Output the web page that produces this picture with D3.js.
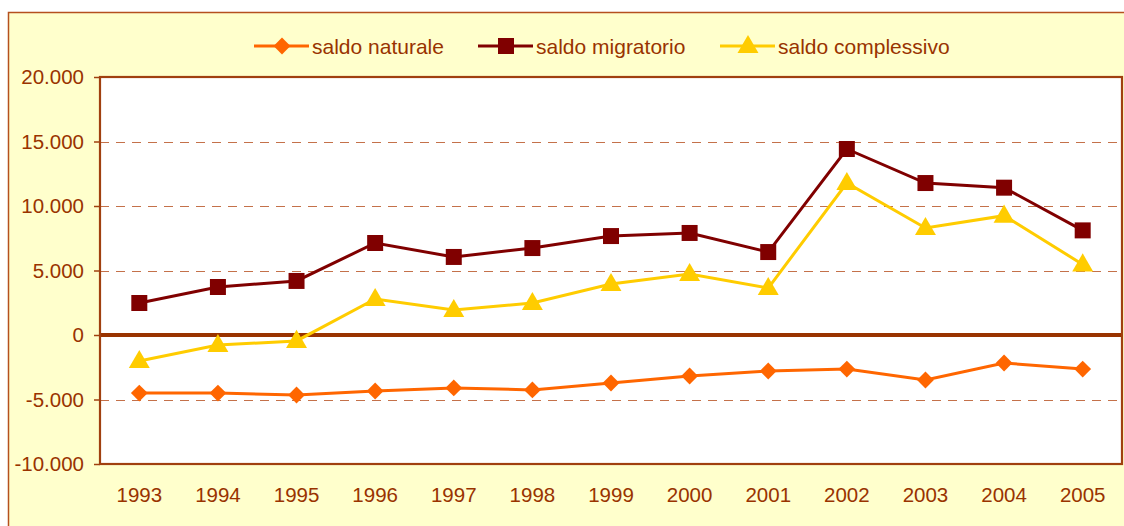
<!DOCTYPE html>
<html>
<head>
<meta charset="utf-8">
<script src="https://cdn.jsdelivr.net/npm/d3@7/dist/d3.min.js"></script>
<style>
  html, body { margin: 0; padding: 0; background: #ffffff; }
  svg { display: block; }
  text { font-family: "Liberation Sans", Arial, sans-serif; fill: #993300; }
</style>
</head>
<body>
<svg id="chart" width="1124" height="526"></svg>
<script>
const years = ["1993","1994","1995","1996","1997","1998","1999","2000","2001","2002","2003","2004","2005"];
const saldoNaturale   = [-4500,-4500,-4650,-4340,-4100,-4260,-3720,-3180,-2790,-2640,-3490,-2170,-2640];
const saldoMigratorio = [2480,3720,4190,7130,6050,6740,7670,7910,6430,14420,11780,11420,8110];
const saldoComplessivo= [-2020,-780,-460,2790,1940,2480,3950,4730,3640,11780,8290,9250,5470];
const yTicks = [-10000,-5000,0,5000,10000,15000,20000];
const seriesNames = ["saldo naturale","saldo migratorio","saldo complessivo"];

const colors = ["#FF6600","#800000","#FFCC00"];
const symbols = [d3.symbolDiamond2, d3.symbolSquare, d3.symbolTriangle];
const symSizes = [180, 256, 190];

const svg = d3.select("#chart");
const W = 1124, H = 526;
const plot = {left:100, right:1122, top:77, bottom:464};

// outer chart area
svg.append("rect").attr("x",8.5).attr("y",12.5).attr("width",W+20).attr("height",H+20)
  .attr("fill","#FFFFCC").attr("stroke","#B5501E").attr("stroke-width",1.5);

const x = d3.scaleBand().domain(years).range([plot.left, plot.right]);
const y = d3.scaleLinear().domain([-10000,20000]).range([plot.bottom, plot.top]);

// plot background
svg.append("rect").attr("x",plot.left).attr("y",plot.top)
  .attr("width",plot.right-plot.left).attr("height",plot.bottom-plot.top)
  .attr("fill","#ffffff");

// gridlines
svg.append("g").selectAll("line").data(yTicks.filter(t => t !== 0 && t !== -10000 && t !== 20000))
  .join("line")
  .attr("x1",plot.left).attr("x2",plot.right)
  .attr("y1",d=>Math.round(y(d))+0.5).attr("y2",d=>Math.round(y(d))+0.5)
  .attr("stroke","#C4714A").attr("stroke-width",1).attr("stroke-dasharray","9,7")
  .attr("shape-rendering","crispEdges");

// zero line
svg.append("line").attr("x1",plot.left).attr("x2",plot.right)
  .attr("y1",y(0)).attr("y2",y(0)).attr("stroke","#993300").attr("stroke-width",4);

// plot border
svg.append("rect").attr("x",plot.left).attr("y",plot.top)
  .attr("width",plot.right-plot.left).attr("height",plot.bottom-plot.top)
  .attr("fill","none").attr("stroke","#A0400F").attr("stroke-width",2.2);

// y axis
const fmt = d => d3.format(",")(Math.abs(d)).replace(/,/g,".");
const yAxis = d3.axisLeft(y).tickValues(yTicks).tickSize(6).tickPadding(10)
  .tickFormat(d => (d < 0 ? "-" : "") + fmt(d));
const gy = svg.append("g").attr("transform",`translate(${plot.left},0)`).call(yAxis);
gy.select(".domain").remove();
gy.selectAll(".tick line").attr("stroke","#A0400F").attr("stroke-width",1.5);
gy.selectAll(".tick text").attr("font-size","20.5px").attr("fill","#993300")
  .attr("font-family","Liberation Sans, Arial, sans-serif");

// x axis
const xAxis = d3.axisBottom(x).tickSize(0).tickPadding(23);
const gx = svg.append("g").attr("transform",`translate(0,${plot.bottom})`).call(xAxis);
gx.select(".domain").remove();
gx.selectAll(".tick text").attr("font-size","20.5px").attr("fill","#993300")
  .attr("font-family","Liberation Sans, Arial, sans-serif");

const data = [saldoNaturale, saldoMigratorio, saldoComplessivo];
const cx = d => x(d) + x.bandwidth()/2;
const line = d3.line().x((v,i)=>cx(years[i])).y(v=>y(v));

data.forEach((vals,si) => {
  svg.append("path").datum(vals).attr("d",line)
    .attr("fill","none").attr("stroke",colors[si]).attr("stroke-width",3);
  svg.append("g").selectAll("path").data(vals).join("path")
    .attr("d", d3.symbol().type(symbols[si]).size(symSizes[si]))
    .attr("transform",(v,i)=>`translate(${cx(years[i])},${y(v) + (si===2?1:0)})`)
    .attr("fill",colors[si]);
});

// legend
const legendX = [254, 478, 720];
const legendY = 46;
seriesNames.forEach((name,i) => {
  const g = svg.append("g").attr("transform",`translate(${legendX[i]},${legendY})`);
  g.append("line").attr("x1",0).attr("x2",55).attr("y1",0).attr("y2",0)
    .attr("stroke",colors[i]).attr("stroke-width",3);
  g.append("path").attr("d", d3.symbol().type(symbols[i]).size(symSizes[i]))
    .attr("transform",`translate(28,${i===2?1:0})`).attr("fill",colors[i]);
  g.append("text").attr("x",58).attr("y",0).attr("dy","0.36em")
    .attr("font-size","21px").text(name);
});
</script>
</body>
</html>
